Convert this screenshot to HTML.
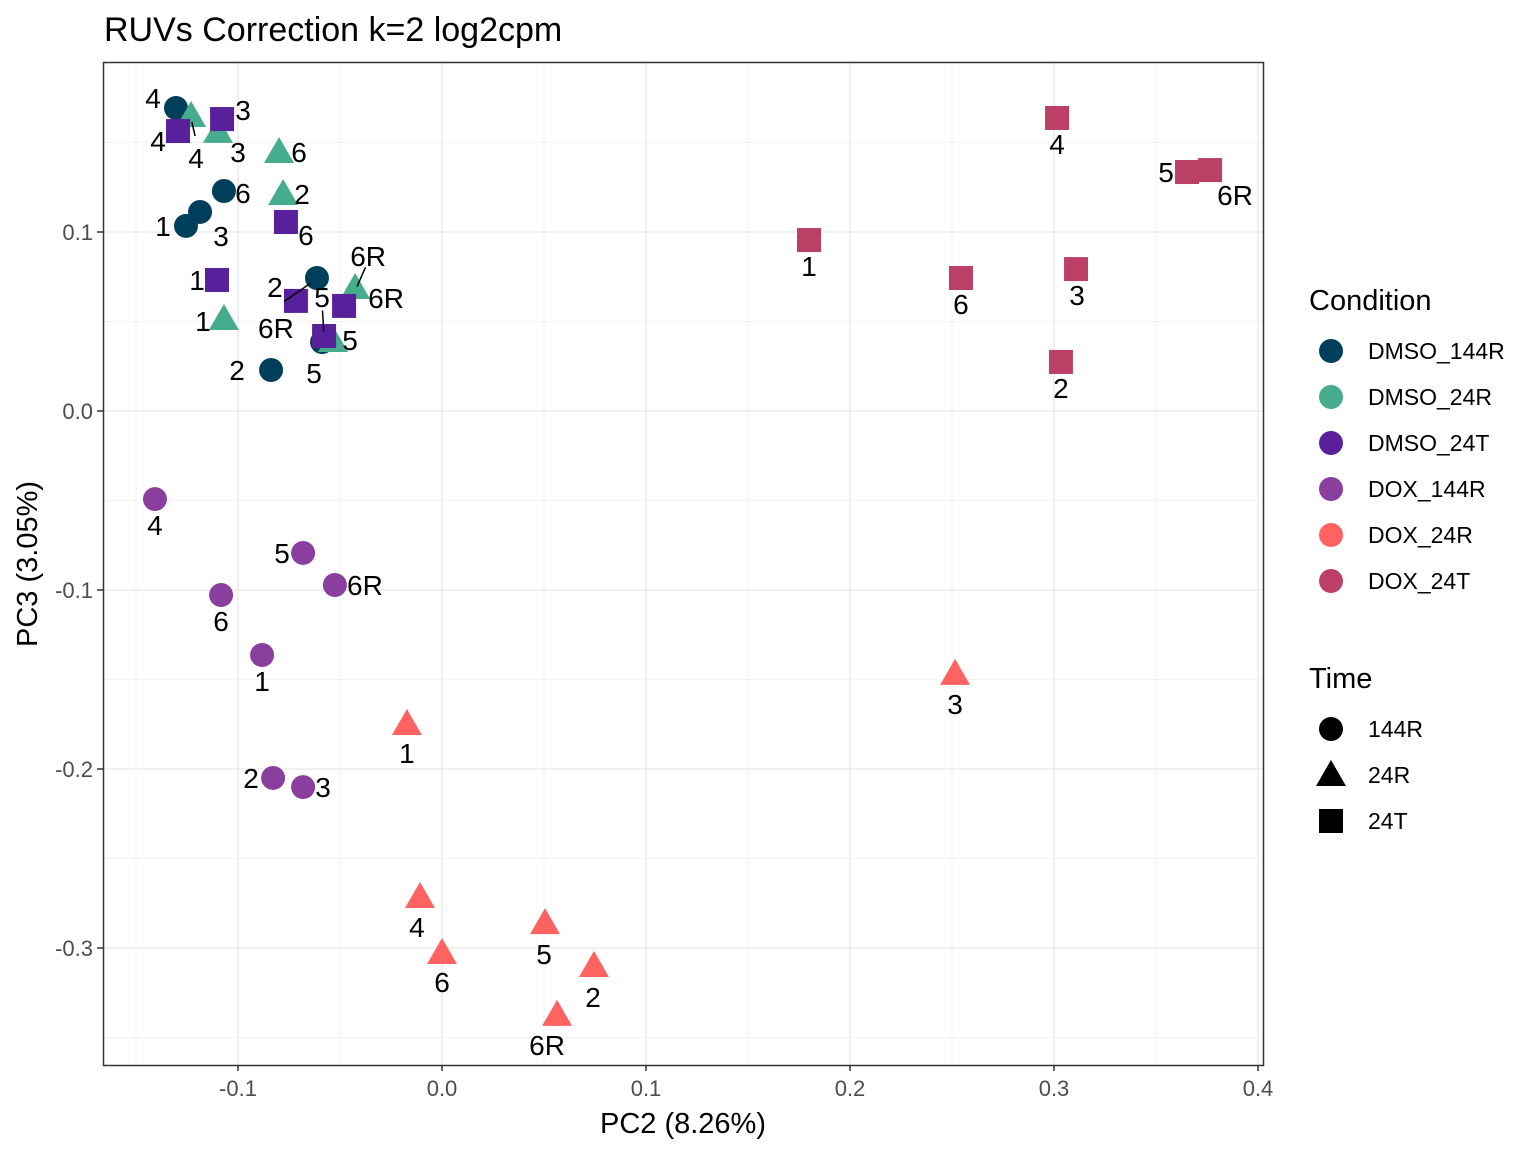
<!DOCTYPE html>
<html><head><meta charset="utf-8"><style>
body{margin:0;background:#fff}
svg text{font-family:"Liberation Sans",Arial,sans-serif}
</style></head><body>
<svg id="chart" width="1536" height="1152" xmlns="http://www.w3.org/2000/svg">
<rect width="1536" height="1152" fill="#fff"/>
<text x="104" y="41" font-size="34" fill="#000">RUVs Correction k=2 log2cpm</text>
<g id="grid"></g>
<g id="marks"></g>
<rect x="103.5" y="62.5" width="1160" height="1003" fill="none" stroke="#333" stroke-width="1.5"/>
<g id="axes"></g>
<text x="683" y="1133" font-size="29" text-anchor="middle">PC2 (8.26%)</text>
<text transform="translate(37,564) rotate(-90)" font-size="29" text-anchor="middle">PC3 (3.05%)</text>
<g id="legend"></g>
</svg>
<script>
const xTicks=[-0.1,0.0,0.1,0.2,0.3,0.4];
const xTickLabels=["-0.1","0.0","0.1","0.2","0.3","0.4"];
const yTicks=[-0.3,-0.2,-0.1,0.0,0.1];
const yTickLabels=["-0.3","-0.2","-0.1","0.0","0.1"];
const conditions=["DMSO_144R","DMSO_24R","DMSO_24T","DOX_144R","DOX_24R","DOX_24T"];
const times=["144R","24R","24T"];
const condTime=[0,1,2,0,1,2];
const colors=["#003f5c","#45ad8e","#58209a","#8a3f9e","#ff6361","#bc4066"];
const sampleLabels=[
["4","6","3","1","6R","5","2"],
["4","3","6","2","1","6R","5"],
["4","3","6","1","2","6R","5"],
["4","5","6R","6","1","2","3"],
["1","3","4","5","6","2","6R"],
["4","5","6R","1","6","3","2"]];
const pc2=[
[-0.1304,-0.1069,-0.1186,-0.1255,-0.0613,-0.0588,-0.0838],
[-0.1230,-0.1098,-0.0799,-0.0779,-0.1069,-0.0426,-0.0534],
[-0.1294,-0.1078,-0.0765,-0.1103,-0.0716,-0.0480,-0.0578],
[-0.1407,-0.0681,-0.0525,-0.1083,-0.0882,-0.0828,-0.0681],
[-0.0172,0.2515,-0.0108,0.0505,0.0000,0.0745,0.0564],
[0.3015,0.3652,0.3765,0.1799,0.2544,0.3108,0.3034]];
const pc3=[
[0.1693,0.1229,0.1112,0.1034,0.0743,0.0385,0.0229],
[0.1637,0.1548,0.1436,0.1201,0.0503,0.0676,0.0380],
[0.1564,0.1631,0.1056,0.0732,0.0615,0.0587,0.0419],
[-0.0492,-0.0793,-0.0972,-0.1028,-0.1363,-0.2050,-0.2101],
[-0.1760,-0.1480,-0.2726,-0.2872,-0.3039,-0.3112,-0.3385],
[0.1637,0.1335,0.1346,0.0955,0.0743,0.0793,0.0274]];
const labOff=[
[[-23,-10,0],[19,2,0],[21,24,0],[-23,0,0],[-41,50,1],[-8,31,0],[-34,0,0]],
[[5,40,1],[20,18,0],[20,-2,0],[19,-2,0],[-21,0,0],[13,-34,1],[17,-3,0]],
[[-20,10,0],[21,-9,0],[20,13,0],[-20,0,0],[-21,-14,0],[42,-8,0],[-2,-39,1]],
[[0,26,0],[-21,0,0],[30,0,0],[0,26,0],[0,26,0],[-22,0,0],[20,0,0]],
[[0,27,0],[0,28,0],[-3,28,0],[-1,29,0],[0,27,0],[-1,29,0],[-10,28,0]],
[[0,26,0],[-21,0,0],[25,25,0],[0,26,0],[0,26,0],[1,26,0],[0,26,0]]];
const NS="http://www.w3.org/2000/svg";
const L=103,R=1263,T=62,B=1065;
const X=v=>442+v*2040, Y=v=>411-v*1790;
function mk(tag,attrs,parent){const e=document.createElementNS(NS,tag);for(const k in attrs)e.setAttribute(k,attrs[k]);parent.appendChild(e);return e;}
const grid=document.getElementById('grid'),axes=document.getElementById('axes'),marks=document.getElementById('marks'),legend=document.getElementById('legend');
mk('rect',{x:L,y:T,width:R-L,height:B-T,fill:'#fff'},grid);
for(let i=0;i<xTicks.length;i++){
  const mx=X(xTicks[i]-0.05);
  if(mx>L&&mx<R){const g=mk('line',{x1:mx,x2:mx,y1:T,y2:B,stroke:'#f2f2f2','stroke-width':1},grid);}
  const x=X(xTicks[i]);
  const g=mk('line',{x1:x,x2:x,y1:T,y2:B,stroke:'#ebebeb','stroke-width':1.5},grid);
  
  
  mk('line',{x1:x,x2:x,y1:B,y2:B+6,stroke:'#333','stroke-width':1.5},axes);
  const t=mk('text',{x:x,y:B+31,'font-size':22,'text-anchor':'middle',fill:'#4d4d4d'},axes);
  t.textContent=xTickLabels[i];
  
  
}
for(let i=0;i<yTicks.length;i++){
  const my=Y(yTicks[i]+0.05);
  if(my>T&&my<B){const g=mk('line',{x1:L,x2:R,y1:my,y2:my,stroke:'#f2f2f2','stroke-width':1},grid);}
  const y=Y(yTicks[i]);
  const g=mk('line',{x1:L,x2:R,y1:y,y2:y,stroke:'#ebebeb','stroke-width':1.5},grid);
  
  
  mk('line',{x1:L-6,x2:L,y1:y,y2:y,stroke:'#333','stroke-width':1.5},axes);
  const t=mk('text',{x:L-10,y:y+8,'font-size':22,'text-anchor':'end',fill:'#4d4d4d'},axes);
  t.textContent=yTickLabels[i];
  
  
}
{const my=Y(-0.35);if(my<B){mk('line',{x1:L,x2:R,y1:my,y2:my,stroke:'#f2f2f2','stroke-width':1},grid);}
 const mx=X(-0.15);if(mx>L){mk('line',{x1:mx,x2:mx,y1:T,y2:B,stroke:'#f2f2f2','stroke-width':1},grid);}}
function shape(kind,cx,cy,fill,parent,s){
  s=s||1;
  if(kind===0)return mk('circle',{cx:cx,cy:cy,r:12*s,fill:fill},parent);
  if(kind===1)return mk('polygon',{points:`${cx},${cy-17*s} ${cx+15*s},${cy+9*s} ${cx-15*s},${cy+9*s}`,fill:fill},parent);
  return mk('rect',{x:cx-12*s,y:cy-12*s,width:24*s,height:24*s,fill:fill},parent);
}
const labG=mk('g',{},marks);
for(let c=0;c<conditions.length;c++){
  for(let i=0;i<pc2[c].length;i++){
    const cx=X(pc2[c][i]),cy=Y(pc3[c][i]);
    const m=shape(condTime[c],cx,cy,colors[c],marks);
    
    
    const o=labOff[c][i];
    const lx=cx+o[0],ly=cy+o[1];
    if(o[2]){
      const seg=mk('line',{x1:lx-o[0]*0.2,y1:ly-o[1]*0.45-4,x2:cx+o[0]*0.15,y2:cy+o[1]*0.1,stroke:'#000','stroke-width':1.5},labG);
      
      
    }
    const t=mk('text',{x:lx,y:ly+10,'font-size':28,'text-anchor':'middle',fill:'#000'},labG);
    t.textContent=sampleLabels[c][i];
    
    
  }
}
marks.appendChild(labG);
const lt=mk('text',{x:1309,y:310,'font-size':29},legend);
lt.textContent='Condition';


for(let c=0;c<conditions.length;c++){
  const y=351+c*46;
  const m=mk('circle',{cx:1331,cy:y,r:12,fill:colors[c]},legend);
  
  
  const t=mk('text',{x:1368,y:y+8,'font-size':23},legend);
  t.textContent=conditions[c];
  
  
}
const tt=mk('text',{x:1309,y:688,'font-size':29},legend);
tt.textContent='Time';


for(let k=0;k<times.length;k++){
  const y=729+k*46;
  const m=shape(k,1331,y+(k===1?2:0),'#000',legend);
  
  
  const t=mk('text',{x:1368,y:y+8,'font-size':23},legend);
  t.textContent=times[k];
  
  
}
</script>
</body></html>
